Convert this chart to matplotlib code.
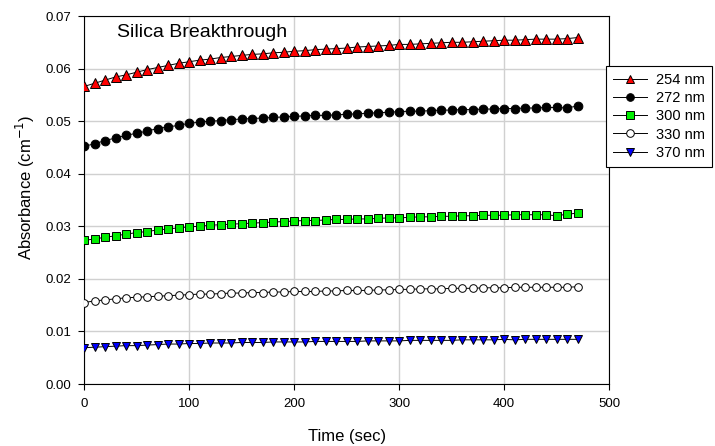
import matplotlib
matplotlib.use("Agg")
import matplotlib.pyplot as plt

plt.rcParams['font.family'] = ['Liberation Sans', 'DejaVu Sans']

# time axis (sec)
time = [0, 10, 20, 30, 40, 50, 60, 70, 80, 90,
        100, 110, 120, 130, 140, 150, 160, 170, 180, 190,
        200, 210, 220, 230, 240, 250, 260, 270, 280, 290,
        300, 310, 320, 330, 340, 350, 360, 370, 380, 390,
        400, 410, 420, 430, 440, 450, 460, 470]

abs_254 = [0.0566, 0.0572, 0.0578, 0.0584, 0.0588, 0.0593, 0.0598, 0.0602, 0.0606, 0.0610,
           0.0613, 0.0616, 0.0618, 0.0621, 0.0623, 0.0625, 0.0627, 0.0628, 0.0630, 0.0631,
           0.0633, 0.0634, 0.0636, 0.0637, 0.0638, 0.0639, 0.0641, 0.0642, 0.0643, 0.0644,
           0.0646, 0.0646, 0.0647, 0.0648, 0.0649, 0.0650, 0.0650, 0.0651, 0.0652, 0.0653,
           0.0654, 0.0654, 0.0655, 0.0656, 0.0656, 0.0656, 0.0657, 0.0659]

abs_272 = [0.0452, 0.0457, 0.0463, 0.0468, 0.0473, 0.0477, 0.0481, 0.0486, 0.0489, 0.0492,
           0.0496, 0.0498, 0.0500, 0.0501, 0.0503, 0.0504, 0.0505, 0.0506, 0.0507, 0.0508,
           0.0509, 0.0510, 0.0511, 0.0511, 0.0512, 0.0513, 0.0514, 0.0515, 0.0516, 0.0517,
           0.0518, 0.0519, 0.0519, 0.0520, 0.0521, 0.0521, 0.0522, 0.0522, 0.0523, 0.0523,
           0.0524, 0.0524, 0.0525, 0.0525, 0.0526, 0.0526, 0.0525, 0.0529]

abs_300 = [0.0273, 0.0276, 0.0279, 0.0282, 0.0285, 0.0288, 0.0290, 0.0293, 0.0295, 0.0297,
           0.0299, 0.0300, 0.0302, 0.0303, 0.0304, 0.0305, 0.0306, 0.0307, 0.0308, 0.0309,
           0.0310, 0.0311, 0.0311, 0.0312, 0.0313, 0.0313, 0.0314, 0.0314, 0.0315, 0.0316,
           0.0316, 0.0317, 0.0318, 0.0318, 0.0319, 0.0319, 0.0320, 0.0320, 0.0321, 0.0321,
           0.0321, 0.0322, 0.0322, 0.0322, 0.0322, 0.0320, 0.0323, 0.0325]

abs_330 = [0.0155, 0.0158, 0.0160, 0.0162, 0.0164, 0.0165, 0.0166, 0.0167, 0.0168, 0.0169,
           0.0170, 0.0171, 0.0171, 0.0172, 0.0173, 0.0173, 0.0174, 0.0174, 0.0175, 0.0175,
           0.0176, 0.0176, 0.0176, 0.0177, 0.0177, 0.0178, 0.0178, 0.0178, 0.0179, 0.0179,
           0.0180, 0.0180, 0.0181, 0.0181, 0.0181, 0.0182, 0.0182, 0.0182, 0.0183, 0.0183,
           0.0183, 0.0184, 0.0184, 0.0184, 0.0184, 0.0184, 0.0184, 0.0185]

abs_370 = [0.0069, 0.0070, 0.0071, 0.0072, 0.0073, 0.0073, 0.0074, 0.0075, 0.0076, 0.0076,
           0.0077, 0.0077, 0.0078, 0.0078, 0.0078, 0.0079, 0.0079, 0.0079, 0.0080, 0.0080,
           0.0080, 0.0080, 0.0081, 0.0081, 0.0081, 0.0081, 0.0081, 0.0082, 0.0082, 0.0082,
           0.0082, 0.0083, 0.0083, 0.0083, 0.0083, 0.0083, 0.0084, 0.0084, 0.0084, 0.0084,
           0.0085, 0.0084, 0.0085, 0.0085, 0.0085, 0.0085, 0.0085, 0.0085]

labels = ['254 nm', '272 nm', '300 nm', '330 nm', '370 nm']
series = [abs_254, abs_272, abs_300, abs_330, abs_370]
markers = ['^', 'o', 's', 'o', 'v']
fills = ['#ff0000', 'black', '#00ee00', 'white', '#0000ff']
sizes = [6.5, 6.3, 5.5, 5.5, 6.3]

fig = plt.figure(figsize=(7.15, 4.46), dpi=100)
ax = fig.add_axes([0.1175, 0.139, 0.7343, 0.8251])

for y, lab, m, fc, ms in zip(series, labels, markers, fills, sizes):
    ax.plot(time, y, color='black', linewidth=0.7, marker=m, markersize=ms,
            markerfacecolor=fc, markeredgecolor='black', markeredgewidth=0.7,
            label=lab, zorder=3)

ax.set_xlim(0, 500)
ax.set_ylim(0, 0.07)
ax.set_xticks([0, 100, 200, 300, 400, 500])
ax.set_yticks([0.00, 0.01, 0.02, 0.03, 0.04, 0.05, 0.06, 0.07])
ax.yaxis.set_major_formatter(matplotlib.ticker.FormatStrFormatter('%.2f'))
ax.grid(True, color='#d0d0d0', linewidth=1.0, zorder=0)
ax.set_axisbelow(True)

for s in ax.spines.values():
    s.set_linewidth(0.8)

ax.tick_params(direction='out', length=4, width=0.8, labelsize=9.5, pad=5)
ax.tick_params(axis='x', pad=6)

fig.text(347 / 715, 1 - 437 / 446, 'Time (sec)', fontsize=12,
         ha='center', va='center')
fig.text(25 / 715, 1 - 187 / 446, 'Absorbance (cm$^{-1}$)', fontsize=12,
         rotation=90, ha='center', va='center')

ax.text(0.063, 0.9565, 'Silica Breakthrough', transform=ax.transAxes,
        fontsize=14, va='center', ha='left')

leg = fig.legend(loc='upper left', bbox_to_anchor=(0.8476, 0.852), fontsize=10.5,
                 frameon=True, fancybox=False, edgecolor='black', framealpha=1,
                 borderpad=0.5, labelspacing=0.28, handlelength=2.3,
                 handletextpad=0.6, borderaxespad=0)
leg.get_frame().set_linewidth(0.8)
for h in leg.legend_handles:
    h.set_markersize(5.5)

fig.savefig('out.png', dpi=100)
